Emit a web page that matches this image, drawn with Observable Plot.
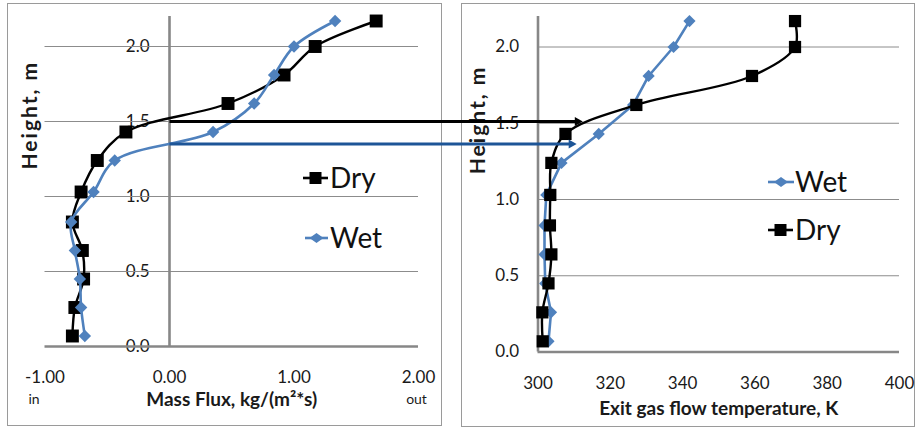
<!DOCTYPE html>
<html><head><meta charset="utf-8">
<script src="https://cdn.jsdelivr.net/npm/d3@7"></script>
<script src="https://cdn.jsdelivr.net/npm/@observablehq/plot@0.6"></script>
<style>
body{margin:0;background:#fff;font-family:Lato,sans-serif;}
#wrap{position:relative;width:916px;height:430px;overflow:hidden;background:#fff;}
.box{position:absolute;border:1px solid #9a9a9a;box-sizing:border-box;}
#left,#right{position:absolute;top:0;}
#left{left:0;z-index:3;}
#right{left:456px;z-index:1;}
.legm{position:absolute;z-index:4;}
.legt{position:absolute;z-index:4;font-family:Lato,sans-serif;font-size:28px;line-height:28px;color:#111;white-space:nowrap;}
</style></head>
<body>
<div id="wrap">
  <div class="box" style="left:7px;top:3px;width:435px;height:423px"></div>
  <div class="box" style="left:461px;top:3px;width:454px;height:424px"></div>
  <div id="left"></div>
  <div id="right"></div>
</div>
<script>
// ---- data ----
const heights  = [0.07, 0.26, 0.45, 0.64, 0.83, 1.03, 1.24, 1.43, 1.62, 1.81, 2.00, 2.17];
const dryFlux  = [-0.78, -0.76, -0.69, -0.70, -0.78, -0.71, -0.58, -0.35, 0.47, 0.92, 1.17, 1.66];
const wetFlux  = [-0.68, -0.71, -0.72, -0.76, -0.79, -0.61, -0.44, 0.35, 0.68, 0.84, 1.00, 1.33];
const dryTemp  = [301.3, 301.2, 302.9, 303.7, 303.3, 303.4, 303.7, 307.6, 327.2, 359.2, 371.1, 371.1];
const wetTemp  = [302.9, 303.6, 302.0, 301.8, 301.8, 302.3, 306.5, 316.8, 326.3, 330.6, 337.5, 341.9];
const heightTicks = [0, 0.5, 1.0, 1.5, 2.0];
const gridTicks = [0.5, 1.0, 1.5, 2.0];
const fluxTicks = [-1, 0, 1, 2];
const tempTicks = [300, 320, 340, 360, 380, 400];
const fluxEndLabels = ["in", "out"];
const fluxEndValues = [-1, 2];
// arrows: height at which flux crosses zero, pointing to the exit temperature
const arrowHeights = [1.50, 1.35];
const arrowTemps = [312.8, 311.1];
const arrowColors = ["#000000", "#1d5597"];

const DRY = "#000000", WET = "#4f81bd", GRID = "#8c8c8c", AXIS = "#878787", TXT = "#1a1a1a";

const dryL = heights.map((h, i) => ({h, v: dryFlux[i]}));
const wetL = heights.map((h, i) => ({h, v: wetFlux[i]}));
const dryR = heights.map((h, i) => ({h, v: dryTemp[i]}));
const wetR = heights.map((h, i) => ({h, v: wetTemp[i]}));
const fmt1 = d => d.toFixed(1);

// ---- right panel ----
const RW = 460, H = 430, ROFF = 456;
const right = Plot.plot({
  width: RW, height: H,
  marginLeft: 81.5, marginRight: 17, marginTop: 16, marginBottom: 78.5,
  x: {domain: [300, 400], axis: null},
  y: {domain: [0, 2.2], axis: null},
  style: {fontFamily: "Lato, sans-serif", fontSize: "17px", background: "transparent", overflow: "visible", color: TXT},
  marks: [
    Plot.ruleY(gridTicks, {stroke: GRID, strokeWidth: 1}),
    Plot.ruleX([300], {y1: 0, y2: 2.2, stroke: AXIS, strokeWidth: 2.6}),
    Plot.ruleY([0], {stroke: AXIS, strokeWidth: 2.6}),
    Plot.text(heightTicks, {x: () => 300, y: d => d, text: fmt1, dx: -19, textAnchor: "end", fontSize: 17, fill: TXT}),
    Plot.text(tempTicks, {x: d => d, y: () => 0, text: d => String(d), dy: 32, fontSize: 17, fill: TXT}),
    Plot.text(["Exit gas flow temperature, K"], {frameAnchor: "bottom", dy: 62.5, fontWeight: "bold", fontSize: 19, fill: TXT}),
    Plot.text(["Height, m"], {frameAnchor: "left", rotate: -90, dx: -59.5, dy: -10, fontWeight: "bold", fontSize: 21, fill: TXT}),
    Plot.line(wetR, {x: "v", y: "h", stroke: WET, strokeWidth: 2.6}),
    Plot.dot(wetR, {x: "v", y: "h", symbol: "diamond2", fill: WET, r: 5.5}),
    Plot.line(dryR, {x: "v", y: "h", stroke: DRY, strokeWidth: 2.4, curve: "catmull-rom"}),
    Plot.dot(dryR, {x: "v", y: "h", symbol: "square", fill: DRY, r: 6.9})
  ]
});
document.getElementById("right").append(right);

// ---- left panel ----
const LW = 450;
const LML = 44.5, LMR = 32;
const lx = Plot.scale({x: {domain: [-1, 2], range: [LML, LW - LMR]}});
const rx = right.scale("x");
const arrows = arrowHeights.map((h, i) => {
  const tipPx = ROFF + rx.apply(arrowTemps[i]);
  return {h, tip: lx.invert(tipPx), end: lx.invert(tipPx - 7), color: arrowColors[i]};
});

const left = Plot.plot({
  width: LW, height: H,
  marginLeft: LML, marginRight: LMR, marginTop: 16, marginBottom: 84,
  x: {domain: [-1, 2], axis: null},
  y: {domain: [0, 2.2], axis: null},
  style: {fontFamily: "Lato, sans-serif", fontSize: "17px", background: "transparent", overflow: "visible", color: TXT},
  marks: [
    Plot.text(heightTicks, {x: () => 0, y: d => d, text: fmt1, dx: -20, textAnchor: "end", fontSize: 17, fill: TXT}),
    Plot.ruleY(gridTicks, {stroke: GRID, strokeWidth: 1}),
    Plot.ruleX([0], {y1: 0, y2: 2.2, stroke: AXIS, strokeWidth: 2.6}),
    Plot.ruleY([0], {stroke: AXIS, strokeWidth: 2.6}),
    Plot.text(fluxTicks, {x: d => d, y: () => 0, text: d => d.toFixed(2), dy: 31, fontSize: 17, fill: TXT}),
    Plot.text(fluxEndLabels, {x: (d, i) => fluxEndValues[i], y: () => 0, text: d => d, dy: 53, fontSize: 14, fill: TXT}),
    Plot.text(["Mass Flux, kg/(m²*s)"], {frameAnchor: "bottom", dy: 59, fontWeight: "bold", fontSize: 19, fill: TXT}),
    Plot.text(["Height, m"], {frameAnchor: "left", rotate: -90, dx: -14.5, dy: -12, fontWeight: "bold", fontSize: 21, fill: TXT}),
    Plot.line(dryL, {x: "v", y: "h", stroke: DRY, strokeWidth: 2.4, curve: "catmull-rom"}),
    Plot.dot(dryL, {x: "v", y: "h", symbol: "square", fill: DRY, r: 7.3}),
    Plot.line(wetL, {x: "v", y: "h", stroke: WET, strokeWidth: 2.6, curve: "catmull-rom"}),
    Plot.dot(wetL, {x: "v", y: "h", symbol: "diamond2", fill: WET, r: 5.6}),
    // arrows
    Plot.link([arrows[0]], {x1: () => 0, x2: "end", y1: "h", y2: "h", stroke: arrowColors[0], strokeWidth: 3}),
    Plot.dot([arrows[0]], {x: "tip", y: "h", symbol: "triangle2", fill: arrowColors[0], r: 4.4, rotate: 90, dx: -6.8}),
    Plot.link([arrows[1]], {x1: () => 0, x2: "end", y1: "h", y2: "h", stroke: arrowColors[1], strokeWidth: 3}),
    Plot.dot([arrows[1]], {x: "tip", y: "h", symbol: "triangle2", fill: arrowColors[1], r: 4.4, rotate: 90, dx: -6.8})
  ]
});
document.getElementById("left").append(left);
// fine placement of small labels and spacing of rotated titles
[left, right].forEach(svg => svg.querySelectorAll("text").forEach(t => {
  if (t.textContent === "in") t.setAttribute("dx", "-11");
  if (t.textContent === "out") t.setAttribute("dx", "-2");
  if (t.textContent === "Height, m") t.style.letterSpacing = "2px";
}));

// ---- legends (HTML) ----
const wrap = document.getElementById("wrap");
function legend(x1, x2, cy, kind, label, tx, baseline) {
  const w = x2 - x1;
  const ns = "http://www.w3.org/2000/svg";
  const svg = document.createElementNS(ns, "svg");
  svg.setAttribute("width", w); svg.setAttribute("height", 16);
  svg.setAttribute("class", "legm");
  svg.style.left = x1 + "px"; svg.style.top = (cy - 8) + "px";
  const color = kind === "square" ? DRY : WET;
  const ln = document.createElementNS(ns, "line");
  ln.setAttribute("x1", 0); ln.setAttribute("x2", w); ln.setAttribute("y1", 8); ln.setAttribute("y2", 8);
  ln.setAttribute("stroke", color); ln.setAttribute("stroke-width", 2.6);
  svg.append(ln);
  const c = w / 2;
  if (kind === "square") {
    const r = document.createElementNS(ns, "rect");
    r.setAttribute("x", c - 6); r.setAttribute("y", 2); r.setAttribute("width", 12); r.setAttribute("height", 12);
    r.setAttribute("fill", color); svg.append(r);
  } else {
    const p = document.createElementNS(ns, "polygon");
    p.setAttribute("points", `${c - 7},8 ${c},3 ${c + 7},8 ${c},13`);
    p.setAttribute("fill", color); svg.append(p);
  }
  wrap.append(svg);
  const t = document.createElement("div");
  t.className = "legt"; t.textContent = label;
  t.style.left = tx + "px"; t.style.top = (baseline - 25) + "px";
  wrap.append(t);
}
legend(303, 328, 178, "square", "Dry", 330, 188);
legend(305, 328, 238, "diamond", "Wet", 330, 248);
legend(768, 794, 182, "diamond", "Wet", 795, 192);
legend(768, 793, 230, "square", "Dry", 795, 240);
</script>
</body></html>
